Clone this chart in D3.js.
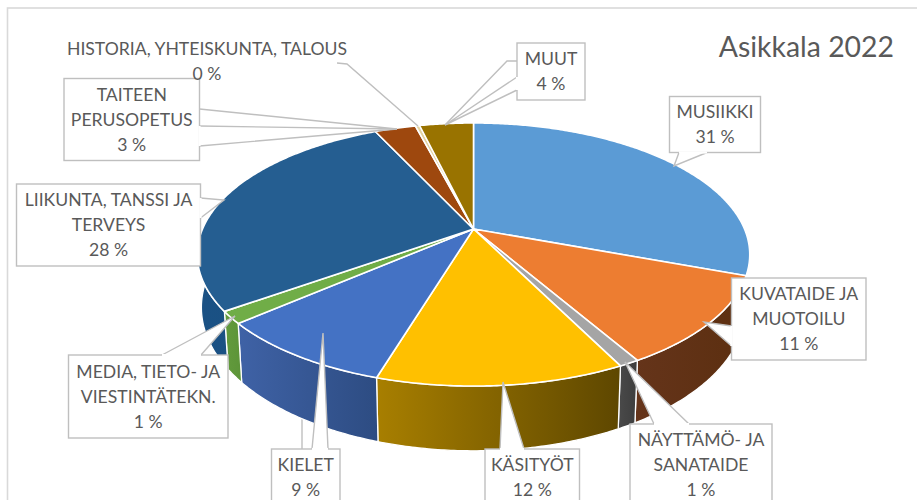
<!DOCTYPE html>
<html><head><meta charset="utf-8">
<script src="https://cdnjs.cloudflare.com/ajax/libs/d3/7.8.5/d3.min.js"></script>
<style>html,body{margin:0;padding:0;background:#fff;overflow:hidden}svg{display:block}
text{font-family:Lato,"Open Sans",sans-serif;fill:#595959}</style></head>
<body><svg id="c" width="917" height="500"></svg>
<script>
// ---- data ----
const categories = ["MUSIIKKI","KUVATAIDE JA MUOTOILU","NÄYTTÄMÖ- JA SANATAIDE","KÄSITYÖT","KIELET","MEDIA, TIETO- JA VIESTINTÄTEKN.","LIIKUNTA, TANSSI JA TERVEYS","TAITEEN PERUSOPETUS","HISTORIA, YHTEISKUNTA, TALOUS","MUUT"];
const shares = [30.6,11.0,1.0,12.1,9.0,1.49,27.8,2.9,0.3,3.8];
const percentLabels = ["31 %","11 %","1 %","12 %","9 %","1 %","28 %","3 %","0 %","4 %"];
const labelLines = [["MUSIIKKI"],["KUVATAIDE JA","MUOTOILU"],["NÄYTTÄMÖ- JA","SANATAIDE"],["KÄSITYÖT"],["KIELET"],["MEDIA, TIETO- JA","VIESTINTÄTEKN."],["LIIKUNTA, TANSSI JA","TERVEYS"],["TAITEEN","PERUSOPETUS"],["HISTORIA, YHTEISKUNTA, TALOUS"],["MUUT"]];
const title = "Asikkala 2022";
// ---- styles ----
const topColors = ["#5b9bd5","#ed7d31","#a5a5a5","#ffc000","#4472c4","#70ad47","#255e91","#9e480e","#e3d3a0","#997300"];
const wallFrom = ["#4a85bf","#65341a","#4a4a4a","#a87f00","#3f62a6","#639b3d","#1a5184","#7a3a0c","#555","#7a5c00"];
const wallTo   = ["#4a85bf","#5c2f10","#3d3d3d","#5e4700","#2d4c82","#5c9438","#1c4f80","#7a3a0c","#555","#7a5c00"];
// ---- callout layout: box [x0,y0,x1,y1], wedge corners, tip ----
const callouts = [
 {i:0,box:[669.5,96.5,760.5,152.5],tip:[674,166],base:[[679,152.5],[707,152.5]]},
 {i:1,box:[731.5,278,866,360],tip:[704,322],base:[[731.5,326],[731.5,346]]},
 {i:2,box:[630,424,772,506],tip:[625,362],base:[[654,424],[689,424]]},
 {i:3,box:[485,449,579.5,506],tip:[503,382],base:[[500,449],[524,449]]},
 {i:4,box:[271.5,449,340,506],tip:[323,333],base:[[312,449],[328,449]]},
 {i:5,box:[68.5,355,228,438],tip:[235,316],base:[[162,355],[201,355]]},
 {i:6,box:[16.5,184,200.5,266],tip:[224,200],base:[[200.5,198],[200.5,218]]},
 {i:7,box:[64,78.5,199.5,160.5],tip:[397,129],base:[[199.5,126],[199.5,146]],extra:[[[199.5,109],[397,129]]]},
 {i:9,box:[517,43,585,100],tip:[445,125],base:[[517,77],[517,90]],extra:[[[517,61],[507,61],[445,125]]]}
];
const svg = d3.select("#c");
const defs = svg.append("defs");
const W=917;
svg.append("rect").attr("x",7.5).attr("y",8).attr("width",W+10).attr("height",520).attr("fill","#fff").attr("stroke","#d9d9d9").attr("stroke-width",1.6);
svg.append("text").attr("x",894).attr("y",57).attr("text-anchor","end").attr("font-size",28.4).text(title);

// projected pie geometry (tilted circle in perspective)
const cx=473.5, cy=229, rx=271, ry=126.6, p=0.194;
const project=(a,r=1)=>{const X=Math.sin(a)*r,Y=-Math.cos(a)*r,w=1-p*Y;return [cx+rx*X/w,cy+ry*Y/w];};
const lower=([x,y])=>[cx+(x-cx)*0.985, y+50.6+(y-cy)*0.09];
const pieGen=d3.pie().sort(null).value(d=>d);
const arcs=pieGen(shares);
const line=d3.line();
const arcPts=(d)=>{const n=Math.max(2,Math.ceil((d.endAngle-d.startAngle)/0.01));
  return d3.range(n+1).map(k=>project(d.startAngle+(d.endAngle-d.startAngle)*k/n));};

// leader running behind the pie (KIELET)
svg.append("path").attr("d",line([[302,449],[302,410]])).attr("stroke","#bfbfbf").attr("stroke-width",1.4).attr("fill","none");

// walls
arcs.forEach((d,i)=>{
  const g=defs.append("linearGradient").attr("id","w"+i);
  g.append("stop").attr("offset","0").attr("stop-color",wallFrom[i]);
  g.append("stop").attr("offset","1").attr("stop-color",wallTo[i]);
});
const wg=svg.append("g");
arcs.forEach((d,i)=>{
  const top=arcPts(d), bot=top.map(lower).reverse();
  wg.append("path").attr("d",line(top.concat(bot))+"Z").attr("fill",`url(#w${i})`).attr("stroke","#fff").attr("stroke-width",1.3);
});
// top faces
const tg=svg.append("g");
arcs.forEach((d,i)=>{
  tg.append("path").attr("d",line([[cx,cy]].concat(arcPts(d)))+"Z").attr("fill",topColors[i]).attr("stroke","#fff").attr("stroke-width",1.6).attr("stroke-linejoin","round");
});

// callouts
const border="#bfbfbf", fs=17.6;
const cg=svg.append("g");
callouts.forEach(c=>{
  const [x0,y0,x1,y1]=c.box;
  cg.append("rect").attr("x",x0).attr("y",y0).attr("width",x1-x0).attr("height",y1-y0).attr("fill","#fff").attr("stroke",border).attr("stroke-width",1.4);
  cg.append("path").attr("d",line([c.base[0],c.tip,c.base[1]])+"Z").attr("fill","#fff").attr("stroke","none");
  cg.append("path").attr("d",line([c.base[0],c.tip,c.base[1]])).attr("fill","none").attr("stroke",border).attr("stroke-width",1.4);
  // hide box edge under wedge base
  cg.append("path").attr("d",line(c.base)).attr("stroke","#fff").attr("stroke-width",2.2).attr("fill","none");
  (c.extra||[]).forEach(e=>cg.append("path").attr("d",line(e)).attr("fill","none").attr("stroke",border).attr("stroke-width",1.4));
  const lines=labelLines[c.i].concat([percentLabels[c.i]]);
  const mid=(x0+x1)/2, lh=25, yc=(y0+y1)/2-(lines.length-1)*lh/2;
  lines.forEach((t,k)=>cg.append("text").attr("x",mid).attr("y",yc+k*lh+6).attr("text-anchor","middle").attr("font-size",fs).text(t));
});
// free-standing label HISTORIA
cg.append("path").attr("d",line([[337,63],[347,64],[418,126]])).attr("fill","none").attr("stroke",border).attr("stroke-width",1.4);
labelLines[8].concat([percentLabels[8]]).forEach((t,k)=>cg.append("text").attr("x",207).attr("y",55+k*25).attr("text-anchor","middle").attr("font-size",fs).text(t));
</script></body></html>
